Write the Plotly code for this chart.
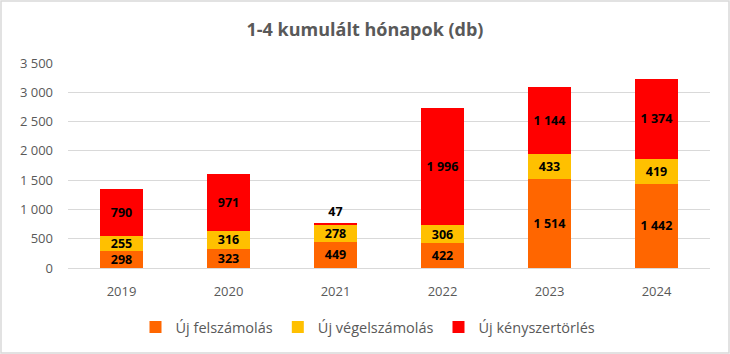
import plotly.graph_objects as go

years = ["2019", "2020", "2021", "2022", "2023", "2024"]
felszamolas = [298, 323, 449, 422, 1514, 1442]
vegelszamolas = [255, 316, 278, 306, 433, 419]
kenyszertorles = [790, 971, 47, 1996, 1144, 1374]
y_ticks = [0, 500, 1000, 1500, 2000, 2500, 3000, 3500]

series = [
    ("Új felszámolás", felszamolas, "#FF6600"),
    ("Új végelszámolás", vegelszamolas, "#FFC000"),
    ("Új kényszertörlés", kenyszertorles, "#FF0000"),
]

FONT = "Open Sans"
fig = go.Figure()
for name, vals, col in series:
    if name == "Új kényszertörlés":
        pos = ["outside" if v < 100 else "inside" for v in vals]
    else:
        pos = "inside"
    fig.add_trace(go.Bar(
        x=years, y=vals, name=name, marker_color=col, marker_line_width=0,
        texttemplate="<b>%{y:,}</b>", textposition=pos,
        insidetextanchor="middle", constraintext="none",
        textfont=dict(family=FONT, size=12.5, color="#000000"),
        outsidetextfont=dict(family=FONT, size=12.5, color="#000000"),
        cliponaxis=False,
    ))

L, R, T, B = 68, 20, 63, 86
W, H = 730, 354
pw, ph = W - L - R, H - T - B

fig.update_layout(
    width=W, height=H,
    barmode="stack", bargap=0.59,
    separators=", ",
    paper_bgcolor="white", plot_bgcolor="white",
    margin=dict(l=L, r=R, t=T, b=B, autoexpand=False),
    title=dict(text="<b>1-4 kumulált hónapok (db)</b>", x=0.5, xref="container", xanchor="center",
               y=1 - 30 / H, yref="container", yanchor="middle",
               font=dict(family=FONT, size=18, color="#595959")),
    font=dict(family=FONT, color="#595959"),
    legend=dict(orientation="h", xref="paper", x=(368 - L) / pw, xanchor="center",
                y=(T + ph - 327) / ph, yanchor="middle",
                font=dict(family=FONT, size=14.5, color="#595959"), itemwidth=30,
                traceorder="normal"),
    showlegend=True,
    xaxis=dict(showline=False, ticks="", ticklabelstandoff=14,
               tickfont=dict(family=FONT, size=13, color="#595959")),
    yaxis=dict(range=[0, 3500], tickvals=y_ticks, tickformat=",", showline=False,
               gridcolor="#D9D9D9", gridwidth=1, zeroline=True, zerolinecolor="#D9D9D9",
               zerolinewidth=1, ticks="", ticklabelstandoff=14,
               tickfont=dict(family=FONT, size=13, color="#595959")),
    shapes=[dict(type="rect", xref="paper", yref="paper",
                 x0=(1 - L) / pw, x1=(W - 1 - L) / pw,
                 y0=(T + ph - (H - 1)) / ph, y1=(T + ph - 1) / ph,
                 line=dict(color="#D9D9D9", width=1.5), layer="below")],
)

fig.write_html("out.html")
